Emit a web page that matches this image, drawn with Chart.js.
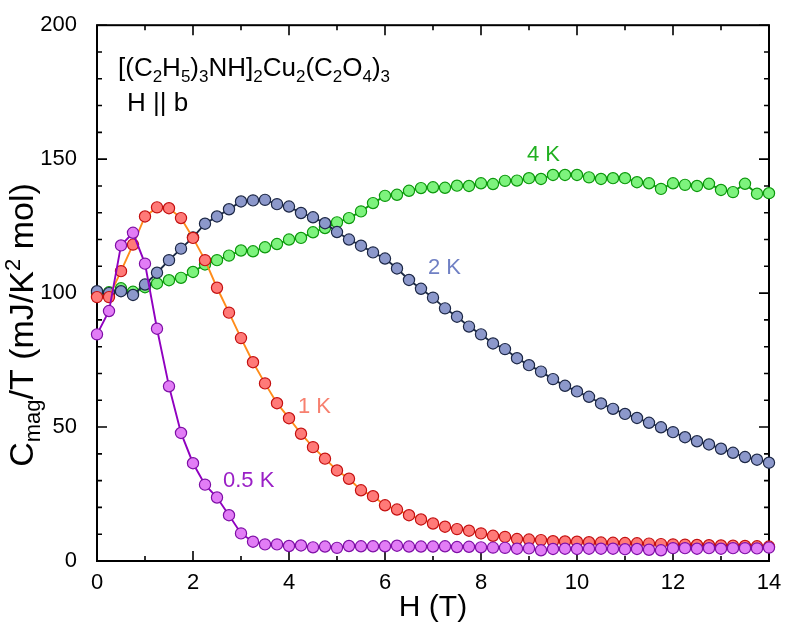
<!DOCTYPE html>
<html lang="en">
<head>
<meta charset="UTF-8">
<title>Cmag/T vs H</title>
<script src="https://cdn.jsdelivr.net/npm/chart.js"></script>
<style>
  body { margin: 0; background: #fff; }
  #wrap { width: 789px; height: 638px; }
</style>
</head>
<body>
<div id="wrap"><canvas id="chart" width="789" height="638"></canvas></div>
<script>
// field values H (T)
const fieldT = [0, 0.25, 0.5, 0.75, 1, 1.25, 1.5, 1.75, 2, 2.25, 2.5, 2.75, 3, 3.25, 3.5, 3.75,
  4, 4.25, 4.5, 4.75, 5, 5.25, 5.5, 5.75, 6, 6.25, 6.5, 6.75, 7, 7.25, 7.5, 7.75,
  8, 8.25, 8.5, 8.75, 9, 9.25, 9.5, 9.75, 10, 10.25, 10.5, 10.75, 11, 11.25, 11.5, 11.75,
  12, 12.25, 12.5, 12.75, 13, 13.25, 13.5, 13.75, 14];

// Cmag/T (mJ/K^2 mol) for each temperature
const c05K = [84.6, 93.3, 117.8, 122.5, 111.0, 86.7, 65.2, 47.8, 36.5, 28.5, 23.7, 17.1, 10.3, 7.2, 6.2, 6.2,
  5.6, 5.8, 5.1, 5.4, 4.9, 5.6, 5.5, 5.5, 5.5, 5.7, 5.4, 5.4, 5.4, 5.5, 5.2, 5.3,
  5.1, 5.0, 4.9, 4.6, 4.7, 4.0, 4.5, 4.6, 4.5, 4.6, 4.6, 4.6, 4.4, 4.5, 4.2, 4.0,
  4.8, 4.8, 4.6, 4.8, 4.6, 4.8, 4.8, 4.7, 5.0];
const c1K = [98.5, 98.5, 108.2, 118.1, 128.6, 132.0, 131.7, 128.0, 120.6, 112.3, 102.0, 92.7, 83.2, 74.2, 66.3, 58.9,
  53.3, 47.5, 42.5, 38.2, 33.8, 30.7, 26.4, 24.2, 20.8, 19.2, 17.1, 15.5, 14.0, 12.8, 11.9, 11.3,
  10.3, 9.4, 9.0, 8.2, 8.0, 7.8, 7.4, 7.3, 7.2, 7.0, 6.9, 6.8, 6.7, 6.6, 6.5, 6.3,
  6.2, 6.1, 6.0, 5.9, 5.8, 5.7, 5.6, 5.5, 5.4];
const c2K = [100.7, 100.0, 100.7, 99.3, 103.2, 107.6, 112.3, 116.6, 120.8, 125.9, 128.6, 131.3, 134.2, 134.6, 134.8, 133.2,
  132.3, 129.9, 128.3, 126.1, 122.8, 120.0, 117.7, 115.2, 112.9, 109.2, 104.9, 101.6, 98.3, 94.3, 91.2, 87.5,
  84.6, 81.2, 79.1, 75.7, 73.1, 70.7, 67.9, 65.4, 63.3, 61.3, 58.8, 56.8, 54.9, 53.4, 51.6, 49.9,
  48.1, 46.2, 44.7, 43.5, 41.9, 40.4, 38.8, 37.8, 36.7];
const c4K = [100.0, 100.3, 101.8, 100.5, 102.2, 103.6, 104.8, 105.7, 107.9, 110.7, 112.3, 114.0, 115.9, 115.6, 117.1, 118.3,
  120.0, 120.6, 122.7, 124.3, 126.4, 128.0, 130.5, 133.6, 136.3, 136.7, 138.2, 139.2, 139.5, 139.3, 140.1, 140.0,
  141.0, 140.7, 141.9, 142.0, 142.9, 142.6, 144.1, 144.1, 144.1, 143.2, 142.6, 142.9, 142.9, 141.4, 141.0, 138.9,
  141.0, 140.4, 140.0, 140.8, 138.5, 137.7, 140.8, 137.1, 137.3];

const xTickStep = 2;
const yTickStep = 50;

const FONT = '"Liberation Sans", Arial, sans-serif';

function pts(vals) {
  return fieldT.map((h, i) => ({ x: h, y: vals[i] }));
}

function series(label, vals, line, fill, edge) {
  return {
    label: label,
    data: pts(vals),
    borderColor: line,
    borderWidth: 1.9,
    backgroundColor: fill,
    pointBackgroundColor: fill,
    pointBorderColor: edge,
    pointBorderWidth: 1.2,
    pointRadius: 5.6,
    tension: 0,
    clip: false
  };
}

// text with sub/superscripts: parts = [text, kind] where kind '' | 'sub' | 'sup'
function drawRich(ctx, parts, x, y, size, color, align) {
  const small = Math.round(size * 0.66);
  ctx.fillStyle = color;
  ctx.textBaseline = 'alphabetic';
  ctx.textAlign = 'left';
  let total = 0;
  parts.forEach(p => {
    ctx.font = (p[1] ? small : size) + 'px ' + FONT;
    total += ctx.measureText(p[0]).width;
  });
  let cx = align === 'center' ? x - total / 2 : x;
  parts.forEach(p => {
    ctx.font = (p[1] ? small : size) + 'px ' + FONT;
    let dy = 0;
    if (p[1] === 'sub') dy = size * 0.22;
    if (p[1] === 'sup') dy = -size * 0.38;
    ctx.fillText(p[0], cx, y + dy);
    cx += ctx.measureText(p[0]).width;
  });
}

const framePlugin = {
  id: 'frame',
  beforeDatasetsDraw(chart) {
    const { ctx, chartArea: a, scales } = chart;
    ctx.save();
    ctx.strokeStyle = '#000';
    ctx.lineWidth = 2;
    ctx.strokeRect(a.left, a.top, a.right - a.left, a.bottom - a.top);
    ctx.lineWidth = 1.6;
    ctx.beginPath();
    for (let v = scales.x.min; v <= scales.x.max; v += 1) {
      const px = scales.x.getPixelForValue(v);
      const len = v % xTickStep === 0 ? 10 : 5;
      ctx.moveTo(px, a.bottom); ctx.lineTo(px, a.bottom - len);
      ctx.moveTo(px, a.top); ctx.lineTo(px, a.top + len);
    }
    for (let v = scales.y.min; v <= scales.y.max; v += 10) {
      const py = scales.y.getPixelForValue(v);
      const len = v % yTickStep === 0 ? 10 : 5;
      ctx.moveTo(a.left, py); ctx.lineTo(a.left + len, py);
      ctx.moveTo(a.right, py); ctx.lineTo(a.right - len, py);
    }
    ctx.stroke();
    ctx.restore();
  },
  afterDraw(chart) {
    const { ctx, chartArea: a } = chart;
    ctx.save();
    // axis titles
    ctx.fillStyle = '#000';
    ctx.font = '30px ' + FONT;
    ctx.textAlign = 'center';
    ctx.textBaseline = 'alphabetic';
    ctx.fillText('H (T)', (a.left + a.right) / 2, 616);

    ctx.save();
    ctx.translate(33, 325);
    ctx.rotate(-Math.PI / 2);
    drawRich(ctx, [['C', ''], ['mag', 'sub'], ['/T (mJ/K', ''], ['2', 'sup'], [' mol)', '']], 0, 0, 34, '#000', 'center');
    ctx.restore();

    // compound + field direction
    drawRich(ctx, [['[(C', ''], ['2', 'sub'], ['H', ''], ['5', 'sub'], [')', ''], ['3', 'sub'], ['NH]', ''], ['2', 'sub'],
      ['Cu', ''], ['2', 'sub'], ['(C', ''], ['2', 'sub'], ['O', ''], ['4', 'sub'], [')', ''], ['3', 'sub']], 118, 76, 26, '#000', 'left');
    drawRich(ctx, [['H || b', '']], 127, 111, 26, '#000', 'left');

    // series labels
    ctx.font = '22px ' + FONT;
    ctx.textAlign = 'left';
    ctx.textBaseline = 'middle';
    ctx.fillStyle = '#20B020'; ctx.fillText('4 K', 527, 155);
    ctx.fillStyle = '#7080C4'; ctx.fillText('2 K', 428, 268);
    ctx.fillStyle = '#F7806F'; ctx.fillText('1 K', 298, 407);
    ctx.fillStyle = '#9A1FC6'; ctx.fillText('0.5 K', 223, 481);
    ctx.restore();
  }
};

new Chart(document.getElementById('chart'), {
  type: 'line',
  data: {
    datasets: [
      series('0.5 K', c05K, '#9000C0', '#E27DF6', '#7E0FA6'),
      series('1 K', c1K, '#FF8C1A', '#FF7A78', '#C41010'),
      series('2 K', c2K, '#1C2A45', '#8C98CB', '#1C2745'),
      series('4 K', c4K, '#0C980C', '#7DF37D', '#0C980C')
    ]
  },
  options: {
    responsive: false,
    animation: false,
    devicePixelRatio: 1,
    layout: { padding: { left: 0, right: 20, top: 23, bottom: 0 } },
    plugins: { legend: { display: false }, tooltip: { enabled: false } },
    scales: {
      x: {
        type: 'linear', min: 0, max: 14,
        grid: { display: false }, border: { display: false },
        ticks: { stepSize: xTickStep, color: '#000', font: { family: FONT, size: 22 }, padding: 1, maxRotation: 0 },
        afterFit: s => { s.height = 77; }
      },
      y: {
        type: 'linear', min: 0, max: 200,
        grid: { display: false }, border: { display: false },
        ticks: { stepSize: yTickStep, color: '#000', font: { family: FONT, size: 22 }, padding: 12 },
        afterFit: s => { s.width = 97; }
      }
    }
  },
  plugins: [framePlugin]
});
</script>
</body>
</html>
